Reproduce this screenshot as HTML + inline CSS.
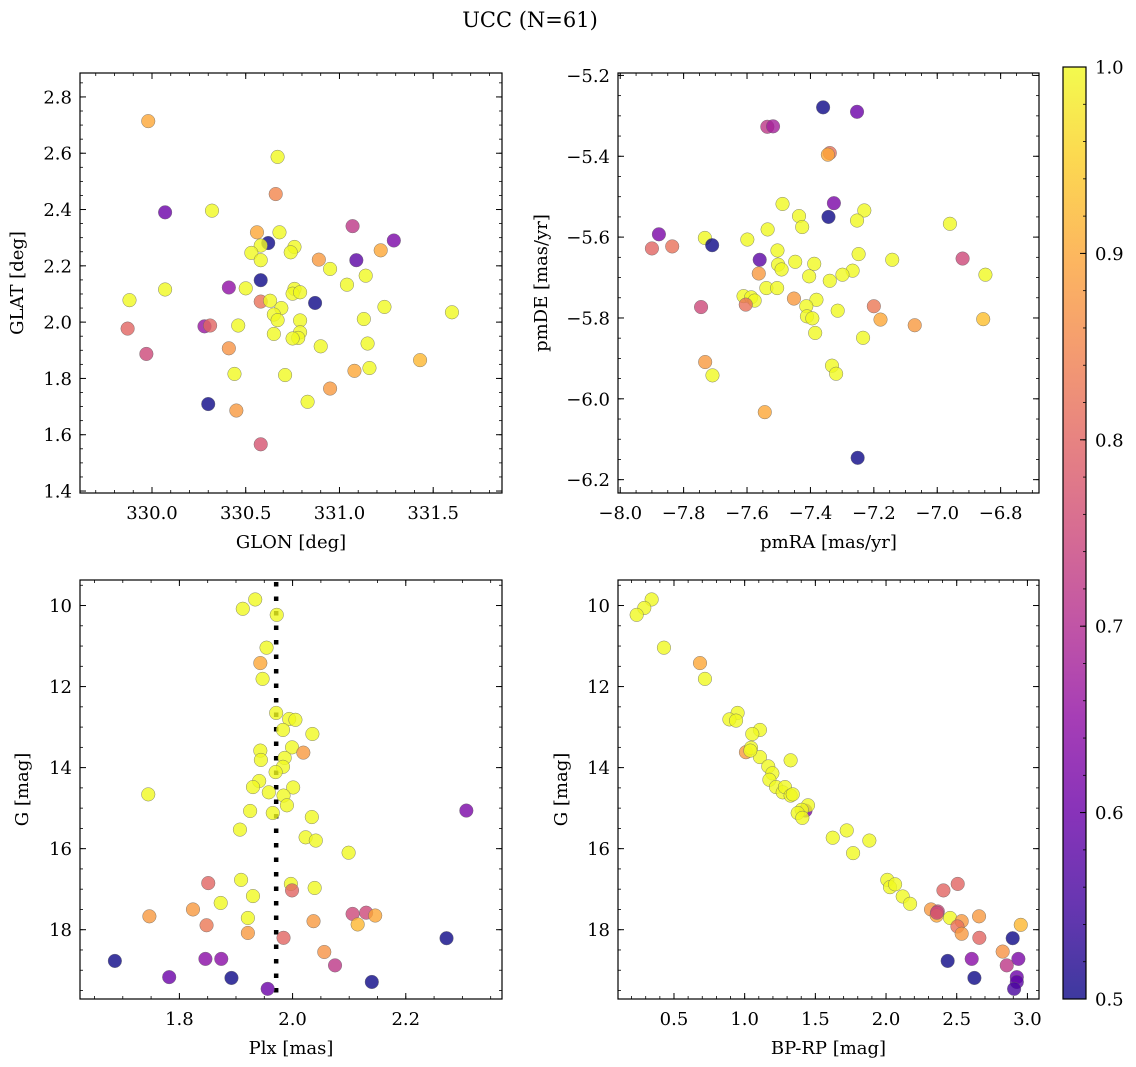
<!DOCTYPE html>
<html><head><meta charset="utf-8">
<style>
html,body{margin:0;padding:0;background:#fff;}
svg{display:block;font-family:"DejaVu Serif","Liberation Serif",serif;}
</style></head>
<body>
<svg id="fig" width="1136" height="1067" viewBox="0 0 1136 1067" xmlns="http://www.w3.org/2000/svg">
<defs>
<linearGradient id="plasma" x1="0" y1="1" x2="0" y2="0">
<stop offset="0" stop-color="#0d0887"/><stop offset="0.1" stop-color="#41049d"/><stop offset="0.2" stop-color="#6a00a8"/><stop offset="0.3" stop-color="#8f0da4"/><stop offset="0.4" stop-color="#b12a90"/><stop offset="0.5" stop-color="#cc4778"/><stop offset="0.6" stop-color="#e16462"/><stop offset="0.7" stop-color="#f2844b"/><stop offset="0.8" stop-color="#fca636"/><stop offset="0.9" stop-color="#fcce25"/><stop offset="1" stop-color="#f0f921"/>
</linearGradient>
</defs>
<text x="530" y="27" text-anchor="middle" font-size="21">UCC (N=61)</text>
</svg>
<script>
// ---- data ----
const glon = [329.98,330.67,330.66,330.07,330.32,331.07,330.56,330.68,330.62,330.58,330.76,330.53,330.74,331.29,331.22,330.89,331.09,330.58,330.95,331.14,331.04,330.58,330.41,330.50,330.07,330.76,330.75,330.79,329.88,330.58,330.63,330.87,330.69,331.24,331.60,330.65,330.67,330.79,331.13,330.28,330.31,330.46,329.87,330.65,330.79,330.78,330.75,330.90,331.15,330.41,329.97,331.43,331.16,331.08,330.44,330.71,330.95,330.83,330.30,330.45,330.58];
const glat = [2.714,2.587,2.455,2.39,2.396,2.341,2.319,2.319,2.281,2.272,2.267,2.246,2.248,2.29,2.255,2.222,2.220,2.220,2.189,2.165,2.133,2.149,2.123,2.120,2.116,2.118,2.101,2.106,2.078,2.073,2.076,2.068,2.05,2.054,2.035,2.027,2.007,2.006,2.011,1.985,1.988,1.988,1.977,1.958,1.964,1.944,1.942,1.914,1.924,1.907,1.887,1.865,1.837,1.827,1.816,1.812,1.764,1.717,1.709,1.686,1.566];
const probTL = [0.9,1,0.85,0.6,1,0.72,0.9,1,0.5,1,1,1,1,0.62,0.9,0.88,0.58,1,1,1,1,0.5,0.65,1,1,1,1,1,1,0.82,1,0.5,1,1,1,1,1,1,1,0.66,0.8,1,0.8,1,1,1,1,1,1,0.87,0.75,0.92,1,0.9,1,1,0.88,1,0.5,0.88,0.77];

const pmra = [-7.36,-7.253,-7.536,-7.518,-7.339,-7.345,-7.488,-7.326,-7.436,-7.343,-7.230,-7.253,-7.426,-6.960,-7.535,-7.878,-7.733,-7.71,-7.9,-7.836,-7.599,-7.504,-7.56,-7.248,-7.142,-6.92,-7.448,-7.388,-7.502,-7.491,-6.848,-7.267,-7.299,-7.563,-7.404,-7.339,-7.539,-7.505,-7.611,-7.587,-7.576,-7.604,-7.452,-7.381,-7.413,-7.745,-7.2,-7.314,-7.411,-7.394,-7.179,-7.071,-6.855,-7.385,-7.234,-7.732,-7.709,-7.332,-7.319,-7.544,-7.251];
const pmde = [-5.279,-5.290,-5.327,-5.326,-5.392,-5.396,-5.518,-5.516,-5.548,-5.550,-5.534,-5.559,-5.575,-5.567,-5.581,-5.593,-5.602,-5.620,-5.628,-5.623,-5.606,-5.633,-5.656,-5.642,-5.656,-5.653,-5.661,-5.666,-5.668,-5.680,-5.693,-5.683,-5.693,-5.690,-5.697,-5.708,-5.726,-5.726,-5.746,-5.749,-5.757,-5.767,-5.752,-5.755,-5.771,-5.773,-5.771,-5.782,-5.796,-5.801,-5.804,-5.818,-5.803,-5.837,-5.849,-5.909,-5.942,-5.918,-5.938,-6.033,-6.146];
const probTR = [0.5,0.6,0.72,0.68,0.82,0.9,1,0.62,1,0.5,1,1,1,1,1,0.62,1,0.5,0.8,0.82,1,1,0.58,1,1,0.75,1,1,1,1,1,1,1,0.88,1,1,1,1,1,1,1,0.82,0.88,1,1,0.75,0.83,1,1,1,0.9,0.88,0.93,1,1,0.88,1,1,1,0.9,0.5];

const plx = [1.934,1.912,1.972,1.954,1.943,1.947,1.971,1.994,2.005,1.983,2.035,1.943,1.999,2.019,1.944,1.986,1.983,1.970,1.941,1.930,2.001,1.958,1.984,1.745,1.990,1.925,1.965,2.307,2.034,1.907,2.023,2.041,2.099,1.909,1.851,1.997,1.999,2.039,1.930,1.873,1.824,1.747,1.921,2.106,2.130,2.146,2.037,1.848,2.115,1.921,1.984,2.272,2.056,1.686,1.846,1.874,2.075,1.782,1.892,2.140,1.956];
const gPlx = [9.85,10.08,10.23,11.04,11.42,11.81,12.65,12.80,12.82,13.07,13.17,13.58,13.50,13.63,13.81,13.76,13.98,14.11,14.33,14.48,14.49,14.61,14.69,14.66,14.93,15.07,15.12,15.06,15.22,15.53,15.72,15.80,16.10,16.77,16.85,16.87,17.03,16.97,17.17,17.34,17.50,17.67,17.71,17.61,17.58,17.65,17.79,17.89,17.87,18.08,18.20,18.21,18.55,18.77,18.72,18.72,18.88,19.17,19.19,19.29,19.46];
const probBL = [1,1,1,1,0.9,1,1,1,1,1,1,1,1,0.88,1,1,1,1,1,1,1,1,1,1,1,1,1,0.62,1,1,1,1,1,1,0.8,1,0.8,1,1,1,0.88,0.88,1,0.75,0.75,0.9,0.88,0.83,0.92,0.88,0.8,0.5,0.87,0.5,0.64,0.64,0.72,0.6,0.5,0.5,0.6];
const plxRef = [1.971];

const bprp = [0.342,0.290,0.236,0.429,0.684,0.719,0.950,0.892,0.939,1.108,1.054,1.009,1.045,1.108,1.325,1.167,1.196,1.175,1.222,1.269,1.285,1.325,1.43,1.448,1.403,1.375,1.408,1.722,1.623,1.882,1.767,2.009,2.028,2.064,2.118,2.170,2.406,2.507,2.318,2.366,2.358,2.453,2.535,2.505,2.535,2.658,2.953,2.660,2.896,2.825,2.436,2.606,2.936,2.854,2.625,2.925,2.925,2.906,1.04,1.34,2.36];
const gCmd = [9.85,10.06,10.23,11.04,11.42,11.81,12.65,12.81,12.84,13.07,13.17,13.62,13.51,13.74,13.82,13.97,14.14,14.30,14.48,14.61,14.48,14.69,15.06,14.93,15.04,15.12,15.24,15.55,15.73,15.80,16.11,16.77,16.95,16.88,17.18,17.36,17.03,16.87,17.50,17.55,17.65,17.71,17.79,17.92,18.10,17.67,17.88,18.20,18.21,18.54,18.77,18.72,18.72,18.88,19.19,19.17,19.29,19.46,13.58,14.66,17.58];
const probBR = [1,1,1,1,0.9,1,1,1,1,1,1,0.88,1,1,1,1,1,1,1,1,1,1,0.62,1,1,1,1,1,1,1,1,1,1,1,1,1,0.8,0.8,0.88,0.75,0.9,1,0.88,0.82,0.88,0.88,0.92,0.8,0.5,0.87,0.5,0.64,0.62,0.72,0.5,0.6,0.58,0.56,1,1,0.75];

const cbTicks = [0.5,0.6,0.7,0.8,0.9,1.0];

// ---- helpers ----
const NS = 'http://www.w3.org/2000/svg';
const svg = document.getElementById('fig');
const FS = 18;
function mk(tag, attrs, parent){ const e=document.createElementNS(NS,tag); for(const k in attrs) e.setAttribute(k,attrs[k]); (parent||svg).appendChild(e); return e; }
const stops=[[13,8,135],[65,4,157],[106,0,168],[143,13,164],[177,42,144],[204,71,120],[225,100,98],[242,132,75],[252,166,54],[252,206,37],[240,249,33]];
function plasma(v){ let t=(v-0.5)/0.5; t=Math.max(0,Math.min(1,t)); const s=t*10; const i=Math.min(9,Math.floor(s)); const f=s-i; const a=stops[i], b=stops[i+1];
  return 'rgb('+[0,1,2].map(k=>Math.round(a[k]+(b[k]-a[k])*f)).join(',')+')'; }
function fmt(v,d){ return (v<0?'\u2212':'')+Math.abs(v).toFixed(d); }

function panel(o){
  const g = mk('g',{});
  
  
  const sx = v => o.x0 + (v-o.xd[0])/(o.xd[1]-o.xd[0])*(o.x1-o.x0);
  const sy = v => o.yInv ? o.y0 + (v-o.yd[0])/(o.yd[1]-o.yd[0])*(o.y1-o.y0)
                         : o.y1 - (v-o.yd[0])/(o.yd[1]-o.yd[0])*(o.y1-o.y0);
  const eps=1e-9;
  function ticksFor(d, step){ const r=[]; let s=Math.ceil((Math.min(d[0],d[1])-eps)/step); for(let v=s*step; v<=Math.max(d[0],d[1])+eps; v+=step) r.push(+v.toFixed(6)); return r; }
  ticksFor(o.xd,o.xminor).forEach(v=>{ const x=sx(v); mk('line',{x1:x,x2:x,y1:o.y1,y2:o.y1-3,stroke:'#000','stroke-width':0.8},g); mk('line',{x1:x,x2:x,y1:o.y0,y2:o.y0+3,stroke:'#000','stroke-width':0.8},g); });
  ticksFor(o.yd,o.yminor).forEach(v=>{ const y=sy(v); mk('line',{x1:o.x0,x2:o.x0+3,y1:y,y2:y,stroke:'#000','stroke-width':0.8},g); mk('line',{x1:o.x1,x2:o.x1-3,y1:y,y2:y,stroke:'#000','stroke-width':0.8},g); });
  o.xticks.forEach(v=>{ const x=sx(v); mk('line',{x1:x,x2:x,y1:o.y1,y2:o.y1-6,stroke:'#000','stroke-width':1},g); mk('line',{x1:x,x2:x,y1:o.y0,y2:o.y0+6,stroke:'#000','stroke-width':1},g);
    const t=mk('text',{x:x,y:o.y1+26,'text-anchor':'middle','font-size':FS},g); t.textContent=fmt(v,o.xdec);
      });
  o.yticks.forEach(v=>{ const y=sy(v); mk('line',{x1:o.x0,x2:o.x0+6,y1:y,y2:y,stroke:'#000','stroke-width':1},g); mk('line',{x1:o.x1,x2:o.x1-6,y1:y,y2:y,stroke:'#000','stroke-width':1},g);
    const t=mk('text',{x:o.x0-8,y:y+6.5,'text-anchor':'end','font-size':FS},g); t.textContent=fmt(v,o.ydec);
      });
  if(o.vline!==undefined){ const x=sx(o.vline); const l=mk('line',{x1:x,x2:x,y1:o.y0+2,y2:o.y1,stroke:'#000','stroke-width':4.5,'stroke-dasharray':'4.5,10'},g);
      }
  o.xs.forEach((xv,i)=>{ const c=mk('circle',{cx:sx(xv),cy:sy(o.ys[i]),r:6.8,fill:plasma(o.c[i]),'fill-opacity':0.8,stroke:'#666','stroke-width':0.5,'stroke-opacity':0.8},g);
      });
  const f=mk('rect',{x:o.x0,y:o.y0,width:o.x1-o.x0,height:o.y1-o.y0,fill:'none',stroke:'#000','stroke-width':1.2},g);
   
  const xl=mk('text',{x:(o.x0+o.x1)/2,y:o.y1+55,'text-anchor':'middle','font-size':FS},g); xl.textContent=o.xlabel;
   
  const yc=(o.y0+o.y1)/2; const yl=mk('text',{x:o.ylx,y:yc,'text-anchor':'middle','font-size':FS,transform:'rotate(-90 '+o.ylx+' '+yc+')'},g); yl.textContent=o.ylabel;
   
}

panel({name:'glon-glat-panel',x0:80,x1:502,y0:73,y1:493,xd:[329.616,331.867],yd:[1.393,2.885],xticks:[330.0,330.5,331.0,331.5],yticks:[1.4,1.6,1.8,2.0,2.2,2.4,2.6,2.8],xminor:0.1,yminor:0.05,xdec:1,ydec:1,xs:glon,ys:glat,c:probTL,xlabel:'GLON [deg]',ylabel:'GLAT [deg]',ylx:23});
panel({name:'proper-motion-panel',x0:618,x1:1039,y0:73,y1:493,xd:[-8.007,-6.679],yd:[-6.233,-5.194],xticks:[-8.0,-7.8,-7.6,-7.4,-7.2,-7.0,-6.8],yticks:[-6.2,-6.0,-5.8,-5.6,-5.4,-5.2],xminor:0.05,yminor:0.05,xdec:1,ydec:1,xs:pmra,ys:pmde,c:probTR,xlabel:'pmRA [mas/yr]',ylabel:'pmDE [mas/yr]',ylx:547});
panel({name:'plx-g-panel',x0:80,x1:502,y0:580,y1:999,xd:[1.6244,2.37],yd:[9.37,19.71],yInv:true,xticks:[1.8,2.0,2.2],yticks:[10,12,14,16,18],xminor:0.05,yminor:0.5,xdec:1,ydec:0,xs:plx,ys:gPlx,c:probBL,xlabel:'Plx [mas]',ylabel:'G [mag]',ylx:28,vline:plxRef[0]});
panel({name:'cmd-panel',x0:618,x1:1039,y0:580,y1:999,xd:[0.104,3.082],yd:[9.37,19.71],yInv:true,xticks:[0.5,1.0,1.5,2.0,2.5,3.0],yticks:[10,12,14,16,18],xminor:0.1,yminor:0.5,xdec:1,ydec:0,xs:bprp,ys:gCmd,c:probBR,xlabel:'BP-RP [mag]',ylabel:'G [mag]',ylx:567});

const cb = mk('g',{});


const cbx0=1063, cbx1=1086, cby0=67, cby1=999;
mk('rect',{x:cbx0,y:cby0,width:cbx1-cbx0,height:cby1-cby0,fill:'url(#plasma)','fill-opacity':0.8},cb);
const cy = v => cby1 - (v-0.5)/0.5*(cby1-cby0);
for(let k=0;k<=25;k++){ const v=0.5+k*0.02; const y=cy(v); mk('line',{x1:cbx1,x2:cbx1-3,y1:y,y2:y,stroke:'#000','stroke-width':0.8},cb); }
cbTicks.forEach(v=>{ const y=cy(v); mk('line',{x1:cbx1,x2:cbx1-6,y1:y,y2:y,stroke:'#000','stroke-width':1},cb);
  const t=mk('text',{x:cbx1+9,y:y+6.5,'font-size':FS},cb); t.textContent=v.toFixed(1);
    });
mk('rect',{x:cbx0,y:cby0,width:cbx1-cbx0,height:cby1-cby0,fill:'none',stroke:'#000','stroke-width':1.2},cb);
</script>
</body></html>
